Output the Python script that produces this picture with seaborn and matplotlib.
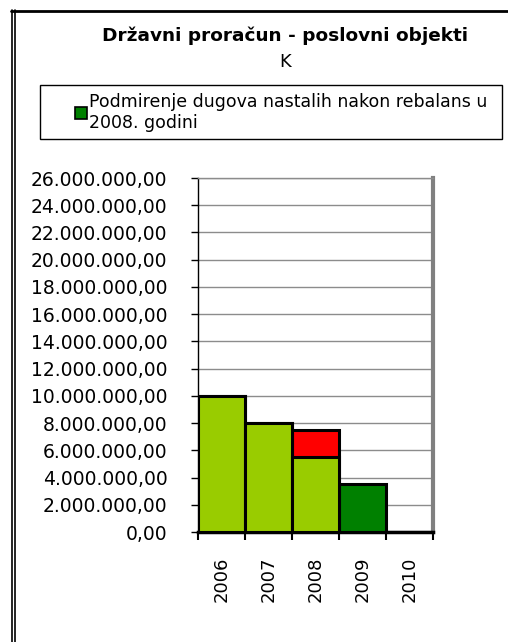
import matplotlib
matplotlib.use("Agg")
import matplotlib.pyplot as plt
from matplotlib.lines import Line2D
from matplotlib.ticker import FuncFormatter, MultipleLocator
import seaborn as sns
import pandas as pd

# Budget data per year (kuna)
years = ["2006", "2007", "2008", "2009", "2010"]
redovni = [10_000_000, 8_000_000, 5_500_000, 0, 0]        # regular budget (light green)
rebalans = [0, 0, 2_000_000, 0, 0]                          # 2008 rebalance addition (red)
podmirenje = [0, 0, 0, 3_500_000, 0]                        # debt settlement (dark green)

legend_label = "Podmirenje dugova nastalih nakon rebalans u\n2008. godini"
title_main = "Državni proračun - poslovni objekti"
title_sub = "K"

LIGHT = "#99CC00"
RED = "#FF0000"
DARK = "#008000"

sns.set_theme(style="white")
plt.rcParams["font.family"] = ["DejaVu Sans"]
plt.rcParams["text.color"] = "black"

totals = [a + b + c for a, b, c in zip(redovni, rebalans, podmirenje)]
top_colors = {}
for y, r, p in zip(years, rebalans, podmirenje):
    top_colors[y] = RED if r > 0 else (DARK if p > 0 else LIGHT)

df_top = pd.DataFrame({"year": years, "value": totals})
df_base = pd.DataFrame({"year": years, "value": redovni})

W, H = 508, 642
fig = plt.figure(figsize=(W / 100, H / 100), dpi=100)
ax = fig.add_axes([198 / W, 1 - 532 / H, 235 / W, 354 / H])

# Stacked look: full totals first, then the regular part drawn over them
sns.barplot(data=df_top, x="year", y="value", hue="year", palette=top_colors,
            width=1.0, edgecolor="black", linewidth=2.2, legend=False, ax=ax,
            saturation=1, zorder=3)
sns.barplot(data=df_base, x="year", y="value", hue="year",
            palette={y: LIGHT for y in years},
            width=1.0, edgecolor="black", linewidth=2.2, legend=False, ax=ax,
            saturation=1, zorder=4)

ax.set_ylim(0, 26_000_000)
ax.set_xlim(-0.5, len(years) - 0.5)
ax.yaxis.set_major_locator(MultipleLocator(2_000_000))


def hr_fmt(v, _pos):
    s = f"{v:,.2f}"
    return s.replace(",", "X").replace(".", ",").replace("X", ".")


ax.yaxis.set_major_formatter(FuncFormatter(hr_fmt))
ax.grid(axis="y", color="#8c8c8c", linewidth=1.0, zorder=0)
ax.set_axisbelow(True)
ax.set_xlabel("")
ax.set_ylabel("")

# Category-boundary ticks on the x axis, labels centred between them
ax.set_xticks([i - 0.5 for i in range(len(years) + 1)], minor=False)
ax.set_xticklabels([])
ax.set_xticks(range(len(years)), minor=True)
ax.set_xticklabels(years, minor=True, rotation=90, fontsize=13)
ax.tick_params(axis="x", which="minor", length=0, pad=18)
ax.tick_params(axis="x", which="major", length=6, width=1.5, color="black",
               direction="out", bottom=True)
ax.tick_params(axis="y", length=5, width=1, color="black", direction="out",
               left=True, labelsize=13.5, pad=17)
for lbl in ax.get_yticklabels():
    lbl.set_color("black")
for lbl in ax.get_xticklabels(minor=True):
    lbl.set_color("black")

ax.spines["left"].set_color("black")
ax.spines["left"].set_linewidth(1.0)
ax.spines["bottom"].set_color("black")
ax.spines["bottom"].set_linewidth(2.5)
ax.spines["right"].set_color("#808080")
ax.spines["right"].set_linewidth(3)
ax.spines["top"].set_color("#8c8c8c")
ax.spines["top"].set_linewidth(1.0)

# Titles
fig.text(285 / W, 1 - 36 / H, title_main, ha="center", va="center",
         fontsize=13.3, fontweight="bold", color="black")
fig.text(285 / W, 1 - 62 / H, title_sub, ha="center", va="center",
         fontsize=13, color="black")

# Legend: square marker inset from the frame, text following it
handle = Line2D([], [], linestyle="none", marker="s", markersize=8,
                markerfacecolor=DARK, markeredgecolor="black",
                markeredgewidth=1.2)
leg = fig.legend([handle], [legend_label], loc="upper left",
                 bbox_to_anchor=(40 / W, 1 - 137 / H, 462 / W, 52 / H),
                 mode="expand", frameon=True, fancybox=False, borderaxespad=0,
                 fontsize=12.5, handlelength=3.8, handletextpad=-1.44,
                 borderpad=0.45, framealpha=1)
leg.get_frame().set_edgecolor("black")
leg.get_frame().set_linewidth(1.0)
for t in leg.get_texts():
    t.set_color("black")

# Outer chart frame (double line on the left, single on top)
fig.add_artist(Line2D([11 / W, 1], [1 - 11 / H, 1 - 11 / H], color="black",
                      linewidth=2, transform=fig.transFigure))
for xpx in (11.5, 14.5):
    fig.add_artist(Line2D([xpx / W, xpx / W], [0, 1 - 10 / H], color="black",
                          linewidth=1.2, transform=fig.transFigure))

fig.savefig("out.png", dpi=100, facecolor="white")
